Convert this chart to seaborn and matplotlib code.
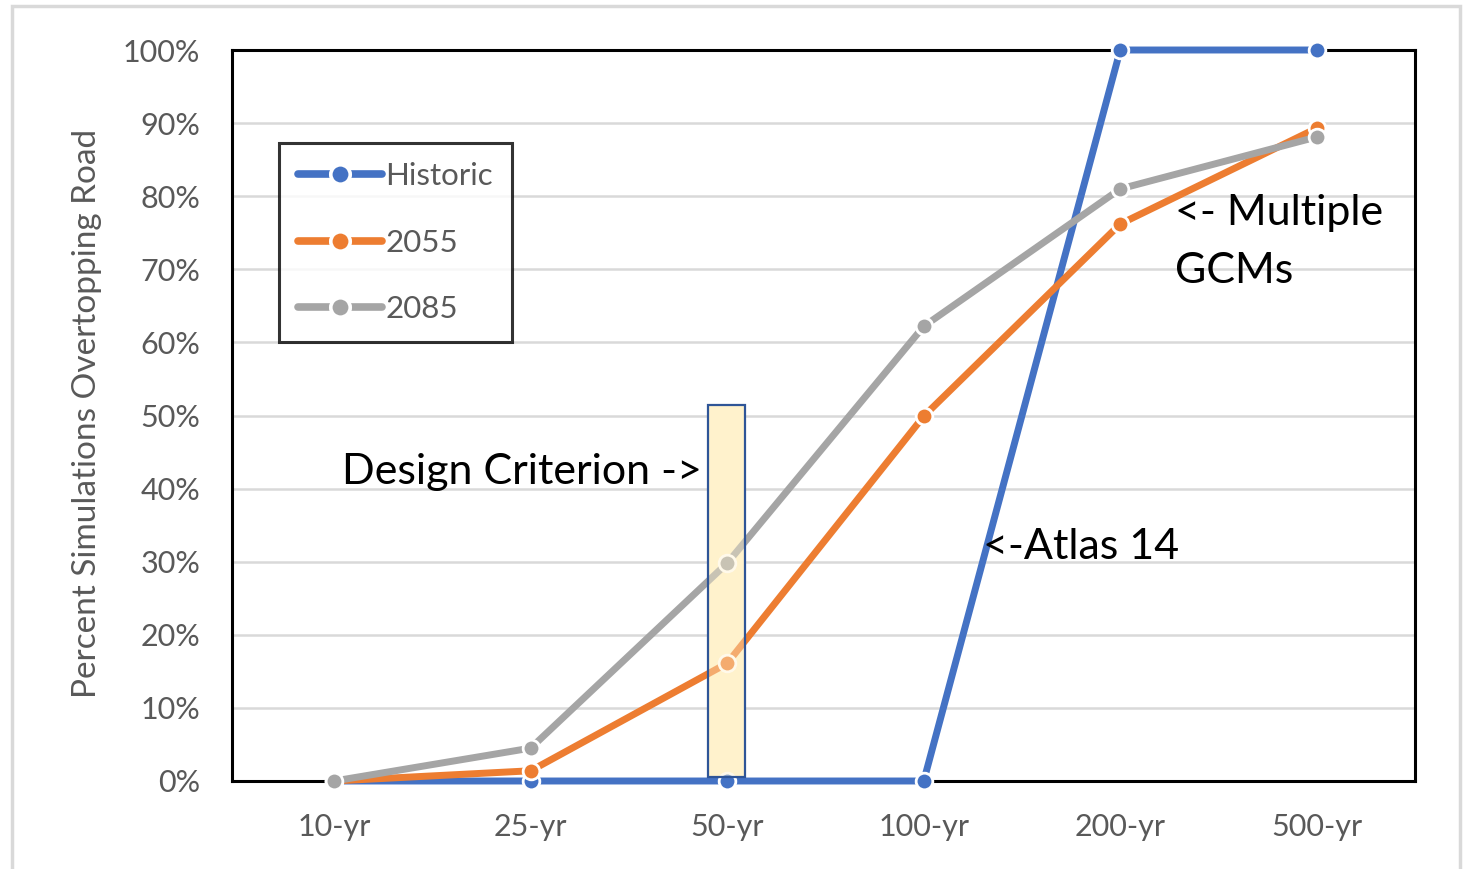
import matplotlib
matplotlib.use("Agg")
import matplotlib.pyplot as plt
import matplotlib.patches as mpatches
from matplotlib.lines import Line2D
from matplotlib.ticker import PercentFormatter
import seaborn as sns
import pandas as pd

# Return periods and fraction of simulations that overtop the road
periods = ["10-yr", "25-yr", "50-yr", "100-yr", "200-yr", "500-yr"]
historic = [0.0, 0.0, 0.0, 0.0, 1.0, 1.0]
proj_2055 = [0.0, 0.014, 0.161, 0.499, 0.762, 0.893]
proj_2085 = [0.0, 0.045, 0.298, 0.622, 0.810, 0.881]
series_names = ["Historic", "2055", "2085"]
series_colors = ["#4472C4", "#ED7D31", "#A5A5A5"]

# Highlighted design-criterion band around the 50-yr event
band_x = (1.90, 2.09)
band_top = 0.514

sns.set_theme(style="white")
plt.rcParams["font.family"] = ["Lato", "DejaVu Sans"]

rows = []
for name, vals in zip(series_names, [historic, proj_2055, proj_2085]):
    for i, v in enumerate(vals):
        rows.append({"pos": i, "value": v, "series": name})
df = pd.DataFrame(rows)

fig = plt.figure(figsize=(14.65, 8.69), dpi=100)
ax = fig.add_axes([232 / 1465, 1 - 781 / 869, (1415 - 232) / 1465, (781 - 50) / 869])

LW, MS, MEW = 5.0, 12, 2.0
for name, color in zip(series_names, series_colors):
    sub = df[df["series"] == name]
    sns.lineplot(data=sub, x="pos", y="value", ax=ax, color=color,
                 linewidth=LW, marker="o", markersize=MS,
                 markeredgecolor="white", markeredgewidth=MEW,
                 clip_on=False, legend=False, zorder=3)

# band: solid fill under the lines, translucent veil over them, then outline
band_w = band_x[1] - band_x[0]
ax.add_patch(mpatches.Rectangle((band_x[0], 0.005), band_w, band_top - 0.005,
                                facecolor="#FFF2CC", edgecolor="none", zorder=2))
ax.add_patch(mpatches.Rectangle((band_x[0], 0.005), band_w, band_top - 0.005,
                                facecolor="#FFF2CC", alpha=0.4, edgecolor="none", zorder=4))
ax.add_patch(mpatches.Rectangle((band_x[0], 0.005), band_w, band_top - 0.005,
                                facecolor="none", edgecolor="#2F5597", linewidth=1.6, zorder=5))

ax.set_xlim(-0.52, 5.5)
ax.set_ylim(0, 1)
ax.set_xticks(range(len(periods)))
ax.set_xticklabels(periods)
ax.set_yticks([i / 10 for i in range(11)])
ax.yaxis.set_major_formatter(PercentFormatter(1.0, decimals=0))
ax.tick_params(axis="both", length=0, labelsize=22, labelcolor="#595959")
ax.tick_params(axis="y", pad=23)
ax.tick_params(axis="x", pad=23)
ax.grid(axis="y", color="#D9D9D9", linewidth=1.8, zorder=0)
ax.set_axisbelow(True)
for sp in ax.spines.values():
    sp.set_visible(True)
    sp.set_color("black")
    sp.set_linewidth(2.2)
ax.set_xlabel("")
ax.set_ylabel("")

fig.text(87 / 1465, 1 - 413 / 869, "Percent Simulations Overtopping Road",
         rotation=90, ha="center", va="center", fontsize=24, color="#595959")

ax.text(0.04, 0.423, "Design Criterion ->", fontsize=31, color="black", va="center", ha="left")
ax.text(3.30, 0.32, "<-Atlas 14", fontsize=31, color="black", va="center", ha="left")
ax.text(4.28, 0.777, "<- Multiple", fontsize=31, color="black", va="center", ha="left")
ax.text(4.28, 0.698, "GCMs", fontsize=31, color="black", va="center", ha="left")

handles = [Line2D([0], [0], color=c, linewidth=LW + 0.5, marker="o", markersize=14,
                  markeredgecolor="white", markeredgewidth=2.6, solid_capstyle="round")
           for c in series_colors]
leg = ax.legend(handles, series_names, loc="upper left",
                bbox_to_anchor=((279 - 232) / 1183, (781 - 143) / 731),
                borderaxespad=0, frameon=True, fontsize=22.5, handlelength=2.7,
                labelspacing=1.24, handletextpad=0.1, borderpad=0.6, fancybox=False)
leg.get_frame().set_edgecolor("black")
leg.get_frame().set_linewidth(2.2)
for t in leg.get_texts():
    t.set_color("#595959")

fig.patches.append(mpatches.Rectangle((12 / 1465, -0.02), (1460 - 12) / 1465, 1.02 - 6 / 869,
                                      transform=fig.transFigure, facecolor="none",
                                      edgecolor="#D9D9D9", linewidth=2.5))

fig.savefig("out.png", dpi=100)
